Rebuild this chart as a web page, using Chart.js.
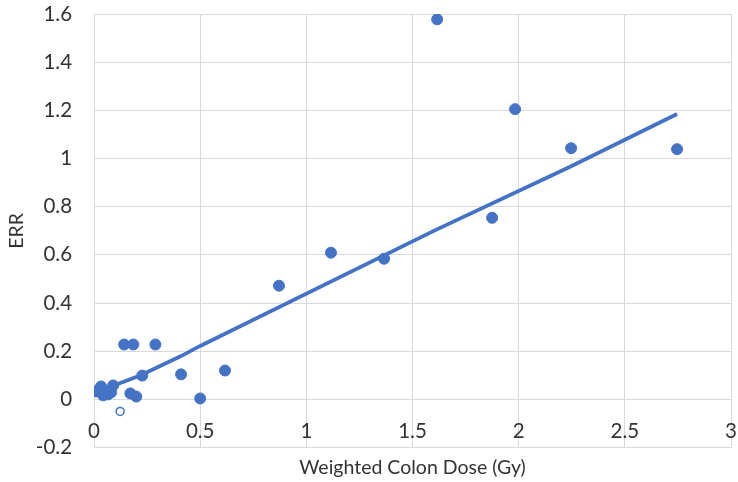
<!DOCTYPE html>
<html><head><meta charset="utf-8">
<script src="https://cdn.jsdelivr.net/npm/chart.js@4/dist/chart.umd.min.js"></script>
<style>html,body{margin:0;padding:0;background:#fff}#wrap{width:738px;height:482px}</style>
</head><body><div id="wrap"><canvas id="c" width="738" height="482"></canvas></div>
<script>
const doseX = [0.01,0.033,0.043,0.066,0.08,0.09,0.142,0.171,0.185,0.199,0.227,0.289,0.41,0.5,0.617,0.871,1.116,1.366,1.616,1.875,1.983,2.247,2.746];
const errY  = [0.033,0.054,0.017,0.021,0.029,0.058,0.228,0.025,0.228,0.012,0.099,0.228,0.104,0.004,0.12,0.472,0.609,0.584,1.578,0.754,1.205,1.043,1.039];
const outlierX = [0.123];
const outlierY = [-0.05];
const fitX = [0.01,0.22,0.41,0.5,1.61,2.24,2.746];
const fitY = [0.03,0.10,0.18,0.222,0.704,0.965,1.185];
const xTicks = [0,0.5,1,1.5,2,2.5,3];
const yTicks = [-0.2,0,0.2,0.4,0.6,0.8,1,1.2,1.4,1.6];
const blue = '#4472C4';
const txt = '#333333';
const font = "Lato, 'Open Sans', sans-serif";
const chart = new Chart(document.getElementById('c'), {
  type: 'scatter',
  data: { datasets: [
    { data: doseX.map((x,i)=>({x, y: errY[i]})), backgroundColor: blue, borderColor: blue, pointRadius: 5.5, order: 1 },
    { data: outlierX.map((x,i)=>({x, y: outlierY[i]})), backgroundColor: '#fff', borderColor: blue, borderWidth: 1.5, pointRadius: 4, order: 1 },
    { type: 'line', data: fitX.map((x,i)=>({x, y: fitY[i]})), borderColor: blue, borderWidth: 3.8, pointRadius: 0, fill: false, tension: 0, order: 2 }
  ]},
  options: {
    responsive: false, animation: false,
    layout: { padding: { top: 14, right: 7, left: 3, bottom: 3 } },
    plugins: { legend: { display: false }, tooltip: { enabled: false } },
    scales: {
      x: { type: 'linear', min: 0, max: 3,
        afterBuildTicks: s => { s.ticks = xTicks.map(v=>({value:v})); },
        grid: { color: '#d9d9d9', lineWidth: 1, drawTicks: false },
        border: { display: false },
        ticks: { display: false },
        title: { display: true, text: 'Weighted Colon Dose (Gy)', color: txt, font: { family: font, size: 19.5 }, padding: { top: 8, bottom: 0 } }
      },
      x2: { type: 'linear', min: 0, max: 3, position: { y: 0 },
        afterBuildTicks: s => { s.ticks = xTicks.map(v=>({value:v})); },
        grid: { display: false, drawTicks: true, tickLength: 20, tickColor: 'rgba(0,0,0,0)' },
        border: { display: false },
        ticks: { color: txt, font: { family: font, size: 20.5 }, padding: 0, callback: v => String(v) }
      },
      y: { min: -0.2, max: 1.6,
        afterBuildTicks: s => { s.ticks = yTicks.map(v=>({value:v})); },
        grid: { color: '#d9d9d9', lineWidth: 1, drawTicks: true, tickLength: 22, tickColor: 'rgba(0,0,0,0)' },
        border: { display: false },
        ticks: { color: txt, font: { family: font, size: 20.5 }, padding: 0, callback: v => String(Math.round(v*10)/10) },
        title: { display: true, text: 'ERR', color: txt, font: { family: font, size: 19.5 }, padding: { top: 2, bottom: 7.4 } }
      }
    }
  }
});
</script></body></html>
